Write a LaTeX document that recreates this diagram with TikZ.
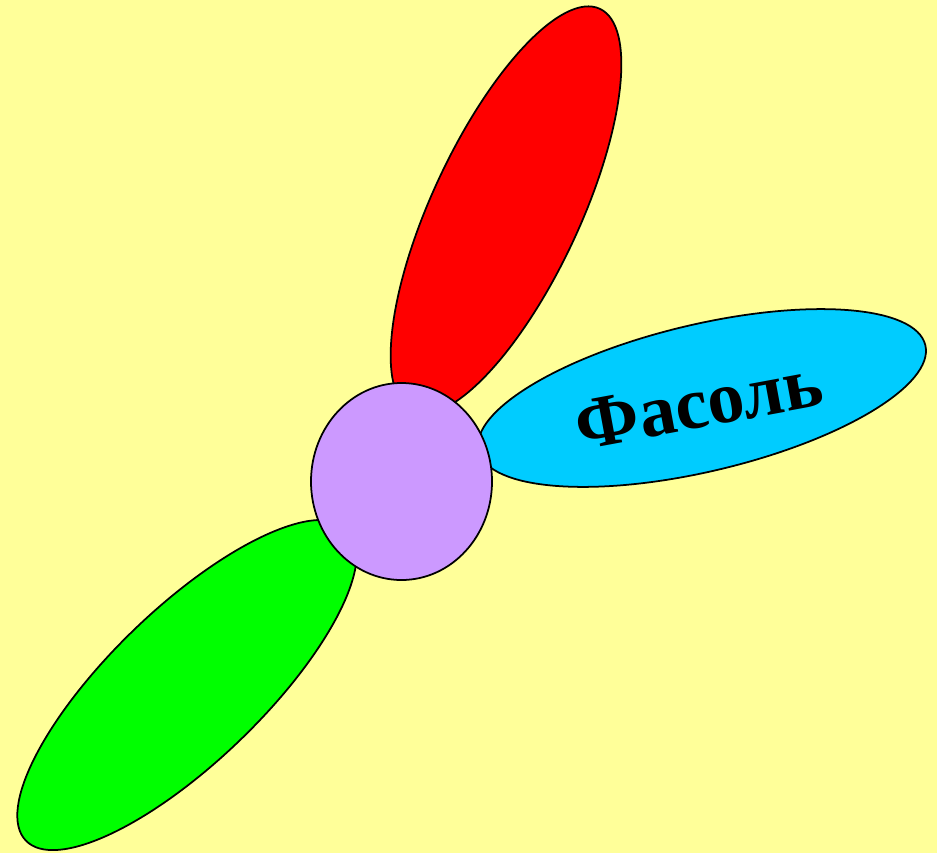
\documentclass[tikz,border=0pt]{standalone}
\usepackage{fontspec}
\setmainfont{Liberation Serif}
\usetikzlibrary{shapes.geometric}
\definecolor{paper}{HTML}{FFFF99}
\definecolor{petalred}{HTML}{FF0000}
\definecolor{petalblue}{HTML}{00CCFF}
\definecolor{petalgreen}{HTML}{00FF00}
\definecolor{core}{HTML}{CC99FF}

\begin{document}
\begin{tikzpicture}[
  petal/.style={ellipse, draw=black, line width=1pt, inner sep=0pt},
  word/.style={text=black, font=\fontsize{42}{42}\selectfont\bfseries},
]
\fill[paper] (0,0) rectangle (18.74,-17.06);
\useasboundingbox (0,0) rectangle (18.74,-17.06);

\node[petal, fill=petalred, rotate=65,
  minimum width=8.88cm, minimum height=2.96cm] (red) at (10.12,-4.20) {};
\node[petal, fill=petalblue, rotate=13.3,
  minimum width=9.18cm, minimum height=2.94cm] (blue) at (14.04,-7.96) {};
\node[petal, fill=petalgreen, rotate=44,
  minimum width=8.96cm, minimum height=3.06cm] (green) at (3.74,-13.70) {};
\node[petal, fill=core,
  minimum width=3.62cm, minimum height=3.94cm] (core) at (8.03,-9.63) {};

\node[word, rotate=10.5] (bean) at (13.98,-8.08) {Фасоль};
\end{tikzpicture}
\end{document}
